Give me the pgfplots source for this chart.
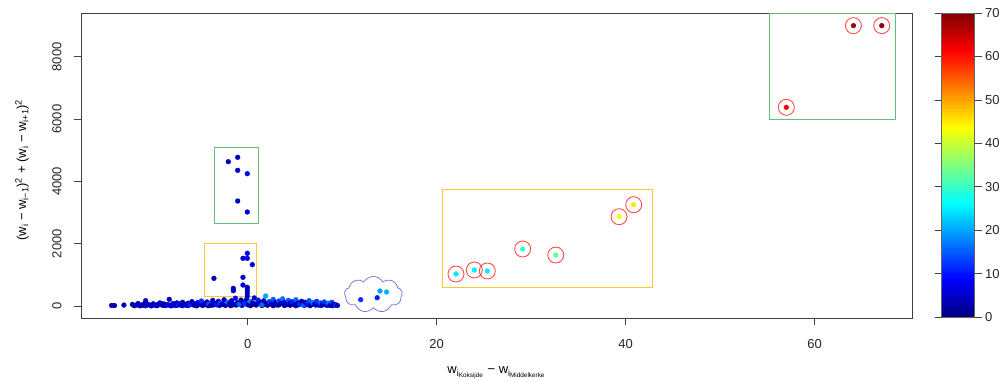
\documentclass[border=0pt]{standalone}
\usepackage{fontspec}
\setmainfont{Liberation Sans}
\usepackage{pgfplots}
\pgfplotsset{compat=1.18}
\usetikzlibrary{shapes.symbols}
\definecolor{boxgreen}{RGB}{100,190,120}
\definecolor{boxyellow}{RGB}{255,200,50}
\definecolor{cloudblue}{RGB}{110,110,220}
\begin{document}
\begin{tikzpicture}[x=1pt,y=1pt]
\path[use as bounding box] (0,0) rectangle (1005,381);
\begin{axis}[
  at={(81pt,63pt)}, anchor=south west,
  scale only axis, width=831pt, height=305pt,
  xmin=-17.64, xmax=70.3, ymin=-385, ymax=9406,
  xtick={0,20,40,60}, ytick={0,2000,4000,6000,8000},
  axis line style={black!75, line width=0.7pt},
  tick style={black!75, line width=0.7pt},
  tick align=outside, major tick length=7pt,
  xtick pos=bottom, ytick pos=left,
  /pgf/number format/assume math mode=true,
  /pgf/number format/1000 sep={},
  every tick label/.append style={font=\fontsize{13}{15}\selectfont, text=black!85},
  yticklabel style={rotate=90, anchor=south, yshift=9pt},
  xticklabel style={yshift=-11pt},
  colormap/jet, point meta min=0, point meta max=70,
  colorbar sampled,
  colorbar style={
    scale only axis,
    samples=141,
    at={(parent axis.north east)}, anchor=north west, xshift=21pt,
    width=33pt, height=304pt,
    ytick={0,10,...,70},
    axis line style={black!60, line width=0.5pt},
    tick style={black!75, line width=0.7pt},
    tick align=outside, major tick length=7pt,
    yticklabel style={font=\fontsize{13}{15}\selectfont, text=black!85},
    /pgf/number format/assume math mode=true,
  },
  xlabel={w\textsubscript{i\textsubscript{Koksijde}} − w\textsubscript{i\textsubscript{Middelkerke}}},
  xlabel style={at={(axis description cs:0.5,-0.18)}, anchor=center, font=\fontsize{13}{15}\selectfont},
  ylabel={(w\textsubscript{i} − w\textsubscript{i−1})\textsuperscript{2} + (w\textsubscript{i} − w\textsubscript{i+1})\textsuperscript{2}},
  ylabel style={at={(axis description cs:-0.071,0.485)}, anchor=center, font=\fontsize{13}{15}\selectfont},
  clip=false,
  scatter/use mapped color={draw=mapped color, fill=mapped color},
]
% dense base
\addplot[scatter, only marks, mark=*, mark size=2.4pt, point meta=explicit]
  table[x=x, y=y, meta=c] {
x y c
-12.0 10 2
-11.7 40 1
-11.4 5 3
-11.1 25 2
-10.8 10 1
-10.5 50 2
-10.2 5 4
-9.9 30 1
-9.6 10 2
-9.3 45 3
-9.0 70 1
-8.7 15 2
-8.4 35 6
-8.1 5 1
-7.8 50 2
-7.5 20 3
-7.2 65 1
-6.9 10 2
-6.6 40 5
-6.3 15 1
-6.0 60 2
-5.7 30 1
-5.4 5 7
-5.1 80 1
-4.8 20 2
-4.5 50 1
-4.2 10 3
-3.9 70 1
-3.6 35 2
-3.3 90 1
-3.0 15 2
-2.7 55 1
-2.4 25 4
-2.1 80 1
-1.8 10 2
-1.5 60 1
-1.2 30 2
-0.9 100 1
-0.6 20 3
-0.3 70 1
0.0 40 2
0.3 10 1
0.6 60 2
0.9 30 1
1.2 90 6
1.5 15 1
1.8 50 2
2.1 25 1
2.4 75 3
2.7 10 1
3.0 55 2
3.3 35 1
3.6 85 2
3.9 15 1
4.2 45 5
4.5 25 1
4.8 70 2
5.1 10 1
5.4 40 3
5.7 80 1
6.0 20 2
6.3 50 1
6.6 10 6
6.9 65 1
7.2 30 2
7.5 85 1
7.8 15 3
8.1 45 1
8.4 25 2
8.7 60 1
9.0 10 2
9.3 40 1
};
% band, varied colours
\addplot[scatter, only marks, mark=*, mark size=2.4pt, point meta=explicit]
  table[x=x, y=y, meta=c] {
x y c
-14.4 20 3
-14.1 15 3
-13.1 30 5
-12.2 50 3
-11.9 20 4
-11.6 80 3
-11.3 30 5
-11.0 60 3
-10.8 170 4
-10.6 40 6
-10.3 20 3
-10.0 70 4
-9.8 30 8
-9.5 50 3
-9.3 100 5
-9.0 20 4
-8.8 60 3
-8.5 40 9
-8.3 215 5
-8.1 30 4
-7.9 80 3
-7.7 20 6
-7.5 100 4
-7.3 50 10
-7.1 30 3
-6.9 120 5
-6.7 60 4
-6.5 20 7
-6.3 90 3
-6.1 40 11
-5.9 140 4
-5.7 70 5
-5.5 25 3
-5.3 110 8
-5.1 50 4
-4.9 160 12
-4.7 30 3
-4.5 90 5
-4.3 130 4
-4.1 60 14
-3.9 20 3
-3.7 180 6
-3.5 80 4
-3.3 40 10
-3.1 150 3
-2.9 100 13
-2.7 60 4
-2.5 200 5
-2.3 30 3
-2.1 120 16
-1.9 80 4
-1.7 170 6
-1.5 40 3
-1.3 250 9
-1.1 100 4
-0.9 60 15
-0.7 190 3
-0.5 130 5
-0.3 80 12
-0.1 220 4
0.1 50 3
0.3 150 18
0.5 100 4
0.7 260 6
0.9 70 3
1.1 190 11
1.3 120 4
1.5 40 16
1.7 170 5
1.9 320 20
2.1 90 4
2.3 140 12
2.5 60 3
2.7 210 15
2.9 110 5
3.1 30 4
3.3 160 13
3.5 80 3
3.7 230 17
3.9 120 6
4.1 50 4
4.3 180 14
4.5 90 3
4.7 140 11
4.9 40 5
5.1 200 16
5.3 100 4
5.5 60 12
5.7 150 3
5.9 30 15
6.1 120 5
6.3 80 10
6.5 170 14
6.7 40 4
6.9 110 17
7.1 70 3
7.3 150 12
7.5 30 6
7.7 100 15
7.9 60 4
8.1 130 13
8.3 40 5
8.5 90 16
8.7 20 4
8.9 120 14
9.1 60 3
9.3 30 12
9.5 20 5
};
% points in boxes and cloud
\addplot[scatter, only marks, mark=*, mark size=2.4pt, point meta=explicit]
  table[x=x, y=y, meta=c] {
x y c
-2.05 4633 4
-1.06 4773 4
-1.06 4355 6
-0.04 4248 7
-1.06 3371 4
-0.04 3018 6
-0.04 1691 7
-0.5 1531 5
-0.04 1531 6
0.49 1327 6
-3.57 888 4
-0.5 920 5
-0.5 674 6
-1.52 567 4
-1.52 491 4
-0.04 600 4
-0.04 514 5
-0.04 417 4
-0.04 321 5
11.96 202 12
13.7 266 11
14.0 481 20
14.7 449 21
};
% outliers
\addplot[scatter, only marks, mark=*, mark size=2.4pt, point meta=explicit]
  table[x=x, y=y, meta=c] {
x y c
22.04 1027 25
23.98 1156 25
25.36 1124 25
29.1 1830 30
32.6 1637 33
39.3 2867 44
40.85 3252 45
57.0 6378 62
64.1 9000 68
67.1 9000 69
};
\addplot[only marks, mark=o, mark size=8pt, draw=red, draw opacity=0.7, mark options={line width=0.9pt}]
  table {
22.04 1027
23.98 1156
25.36 1124
29.1 1830
32.6 1637
39.3 2867
40.85 3252
57.0 6378
64.1 9000
67.1 9000
};
\draw[boxgreen, line width=0.8pt] (axis cs:55.2,6000) rectangle (axis cs:68.5,9380);
\draw[boxyellow, line width=0.8pt] (axis cs:20.6,600) rectangle (axis cs:42.8,3746);
\draw[boxgreen, line width=0.8pt] (axis cs:-3.49,2655) rectangle (axis cs:1.12,5095);
\draw[boxyellow, line width=0.8pt] (axis cs:-4.59,321) rectangle (axis cs:0.88,2012);
\node[cloud, draw=cloudblue, line width=0.7pt, cloud puffs=9, cloud puff arc=120, aspect=1.6,
  minimum width=58pt, minimum height=36pt, inner sep=0pt] at (axis cs:13.3,370) {};
\end{axis}
\end{tikzpicture}
\end{document}
